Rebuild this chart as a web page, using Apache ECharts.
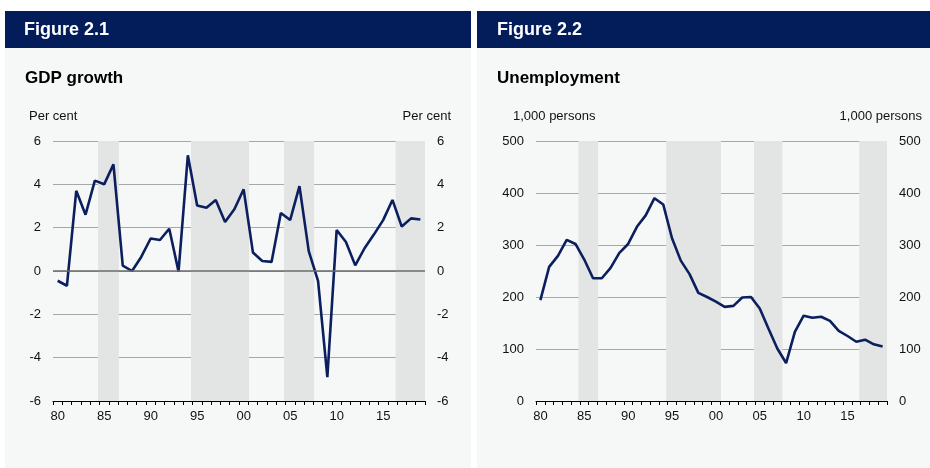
<!DOCTYPE html>
<html>
<head>
<meta charset="utf-8">
<script src="https://cdn.jsdelivr.net/npm/echarts@6/dist/echarts.min.js"></script>
<style>
  html, body { margin: 0; padding: 0; background: #ffffff; }
  #chart { width: 930px; height: 468px; }
</style>
</head>
<body>
<div id="chart"></div>
<script>
// Years on the horizontal axis
const years = [1980, 1981, 1982, 1983, 1984, 1985, 1986, 1987, 1988, 1989,
               1990, 1991, 1992, 1993, 1994, 1995, 1996, 1997, 1998, 1999,
               2000, 2001, 2002, 2003, 2004, 2005, 2006, 2007, 2008, 2009,
               2010, 2011, 2012, 2013, 2014, 2015, 2016, 2017, 2018, 2019];

// GDP growth, per cent
const gdpGrowth = [-0.45, -0.68, 3.7, 2.6, 4.17, 4.0, 4.92, 0.25, 0.0, 0.66,
                   1.5, 1.43, 1.95, -0.03, 5.34, 3.02, 2.92, 3.28, 2.26, 2.85,
                   3.77, 0.85, 0.46, 0.42, 2.68, 2.35, 3.92, 0.92, -0.46, -4.9,
                   1.89, 1.34, 0.26, 1.05, 1.68, 2.35, 3.28, 2.05, 2.43, 2.38];

// Unemployment, 1,000 persons
const unemployment = [194, 258, 279, 310, 302, 272, 236, 236, 256, 285,
                      302, 335, 357, 390, 378, 313, 270, 244, 208, 200,
                      191, 181, 183, 199, 200, 178, 139, 101, 73, 133,
                      164, 160, 162, 154, 135, 125, 114, 118, 109, 105];

// Shaded periods (first year, last year)
const shadedPeriods = [[1985, 1986], [1995, 2000], [2005, 2007], [2017, 2019]];

// Tick labels
const gdpTicks = { min: -6, max: 6, step: 2 };
const unempTicks = { min: 0, max: 500, step: 100 };

const FONT = '"Liberation Sans", Arial, sans-serif';
const NAVY = '#031d5b';
const PANEL = '#f6f7f7';
const SHADE = '#e3e4e4';
const LINE = '#0b1f5e';

const chart = echarts.init(document.getElementById('chart'), null, { renderer: 'canvas' });

const xCategories = years.map(String);
const shadeAreas = shadedPeriods.map(p => [{ xAxis: p[0] - 0.66 }, { xAxis: p[1] + 0.58 }]);

function catAxis(gridIndex) {
  return {
    type: 'category', gridIndex, data: xCategories, boundaryGap: true, position: 'bottom',
    axisLine: { show: true, onZero: false, lineStyle: { color: '#000', width: 1 } },
    axisTick: { show: true, interval: 0, length: 4, lineStyle: { color: '#000' } },
    axisLabel: { interval: 4, margin: 9, color: '#111', fontFamily: FONT, fontSize: 13,
                 formatter: v => v.slice(2) },
    splitLine: { show: false }
  };
}
function valXAxis(gridIndex) {
  return { type: 'value', gridIndex, show: false, min: years[0] - 0.5, max: years[years.length - 1] + 0.5,
           splitLine: { show: false } };
}
function yAxis(gridIndex, ticks, position, grid) {
  return {
    type: 'value', gridIndex, position, min: ticks.min, max: ticks.max, interval: ticks.step,
    axisLine: { show: false }, axisTick: { show: false },
    axisLabel: { margin: 12, color: '#111', fontFamily: FONT, fontSize: 13 },
    splitLine: { show: grid, lineStyle: { color: '#a8a8a8', width: 1 } }
  };
}

const txt = (x, y, text, size, weight, color, align) => ({
  type: 'text', x, y, z: 5,
  style: { text, fill: color, font: `${weight} ${size}px ${FONT}`, textAlign: align || 'left', textVerticalAlign: 'middle' }
});

chart.setOption({
  animation: false,
  backgroundColor: '#ffffff',
  graphic: {
    elements: [
      { type: 'rect', shape: { x: 5, y: 11, width: 466, height: 457 }, style: { fill: PANEL }, z: -10 },
      { type: 'rect', shape: { x: 477, y: 11, width: 453, height: 457 }, style: { fill: PANEL }, z: -10 },
      { type: 'rect', shape: { x: 5, y: 11, width: 466, height: 37 }, style: { fill: NAVY }, z: -5 },
      { type: 'rect', shape: { x: 477, y: 11, width: 453, height: 37 }, style: { fill: NAVY }, z: -5 },
      txt(24, 30, 'Figure 2.1', 18, 'bold', '#ffffff'),
      txt(497, 30, 'Figure 2.2', 18, 'bold', '#ffffff'),
      txt(25, 78, 'GDP growth', 17, 'bold', '#000000'),
      txt(497, 78, 'Unemployment', 17, 'bold', '#000000'),
      txt(29, 116, 'Per cent', 13, 'normal', '#111111'),
      txt(451, 116, 'Per cent', 13, 'normal', '#111111', 'right'),
      txt(513, 116, '1,000 persons', 13, 'normal', '#111111'),
      txt(922, 116, '1,000 persons', 13, 'normal', '#111111', 'right')
    ]
  },
  grid: [
    { left: 53, top: 141, width: 372, height: 260 },
    { left: 536, top: 141, width: 351, height: 260 }
  ],
  xAxis: [catAxis(0), valXAxis(0), catAxis(1), valXAxis(1)],
  yAxis: [
    yAxis(0, gdpTicks, 'left', true), yAxis(0, gdpTicks, 'right', false),
    yAxis(1, unempTicks, 'left', true), yAxis(1, unempTicks, 'right', false)
  ],
  series: [
    {
      name: 'GDP growth', type: 'line', xAxisIndex: 1, yAxisIndex: 0,
      data: years.map((y, i) => [y, gdpGrowth[i]]),
      symbol: 'none', lineStyle: { color: LINE, width: 2.6 }, z: 3,
      markArea: { silent: true, itemStyle: { color: SHADE }, data: shadeAreas },
      markLine: { silent: true, symbol: 'none', label: { show: false },
                  lineStyle: { color: '#6b6b6b', width: 1.5, type: 'solid' },
                  data: [{ yAxis: 0 }] }
    },
    {
      name: 'Unemployment', type: 'line', xAxisIndex: 3, yAxisIndex: 2,
      data: years.map((y, i) => [y, unemployment[i]]),
      symbol: 'none', lineStyle: { color: LINE, width: 2.6 }, z: 3,
      markArea: { silent: true, itemStyle: { color: SHADE }, data: shadeAreas }
    }
  ]
});
</script>
</body>
</html>
